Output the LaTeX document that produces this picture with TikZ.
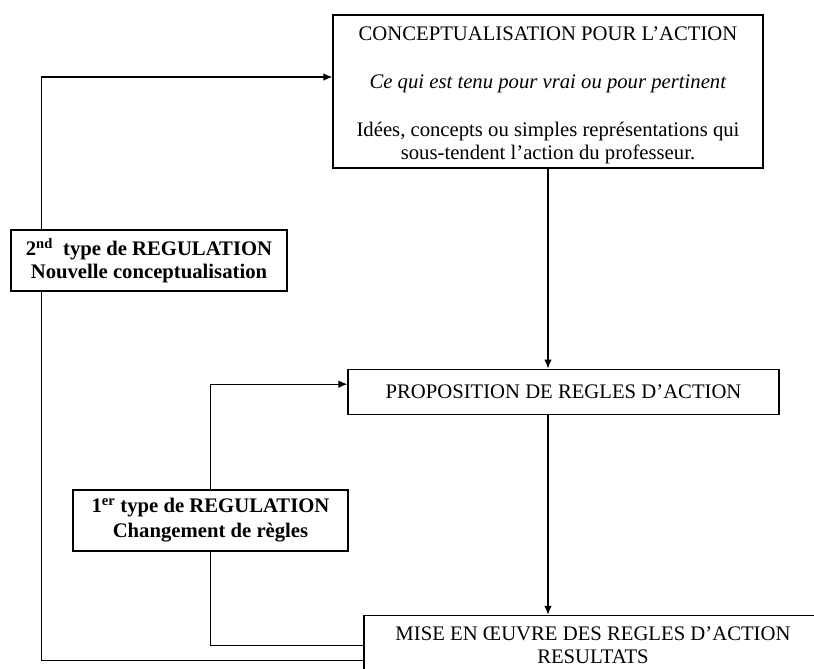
\documentclass[tikz,border=0pt]{standalone}
\usepackage{fontspec}
\setmainfont{Liberation Serif}
\usetikzlibrary{positioning,arrows.meta}

\begin{document}
\begin{tikzpicture}[
		x=1pt,y=-1pt,
		node distance=200pt,
		line width=1.2pt,
		>={Latex[length=9pt,width=7.5pt]},
		mybox/.style={draw,fill=white,inner sep=0pt,align=center,font=\fontsize{20.7}{23}\selectfont},
		regbox/.style={mybox,font=\bfseries\fontsize{20.7}{22.7}\selectfont,minimum width=276pt,minimum height=61pt}
		]
		\path[use as bounding box,fill=white] (0,0) rectangle (814,669);
		\clip (0,0) rectangle (814,669);
		\node[mybox,minimum width=430pt,minimum height=153pt] (concept) at (548,91.5)
		{
			\rule{0pt}{21pt}CONCEPTUALISATION POUR L’ACTION\\[25.4pt]
			\textit{Ce qui est tenu pour vrai ou pour pertinent}\\[25pt]
			Idées, concepts ou simples représentations qui\\
			sous-tendent l’action du professeur.
		};
		\node[mybox,below=of concept,xshift=15.5pt,minimum width=431pt,minimum height=45pt] (propo)
		{PROPOSITION DE REGLES D’ACTION};
		\node[mybox,below=of propo,xshift=29.5pt,minimum width=458pt,minimum height=60pt] (mise)
		{
			MISE EN ŒUVRE DES REGLES D’ACTION\\
			RESULTATS
		};
		\node[regbox] (reg2) at (149,260.5)
		{
			2\textsuperscript{nd}~ type de REGULATION\\
			Nouvelle conceptualisation
		};
		\node[regbox,minimum width=275pt,font=\bfseries\fontsize{20.7}{25}\selectfont] (reg1) at (210.5,520.5)
		{
			1\textsuperscript{er} type de REGULATION\\
			Changement de règles
		};
		\draw[->] (concept.south) -- (concept.south |- propo.north);
		\draw[->] (concept.south |- propo.south) -- (concept.south |- mise.north);
		% 1er type: boucle courte
		\draw (mise.west) -| (reg1.south);
		\draw[->] (reg1.north) |- ([yshift=7.5pt]propo.west);
		% 2nd type: boucle longue
		\draw ([yshift=-15pt]mise.west) -| ([xshift=31pt]reg2.south west);
		\draw[->] ([xshift=31pt]reg2.north west) |- ([yshift=14.5pt]concept.west);
	\end{tikzpicture}
\end{document}
